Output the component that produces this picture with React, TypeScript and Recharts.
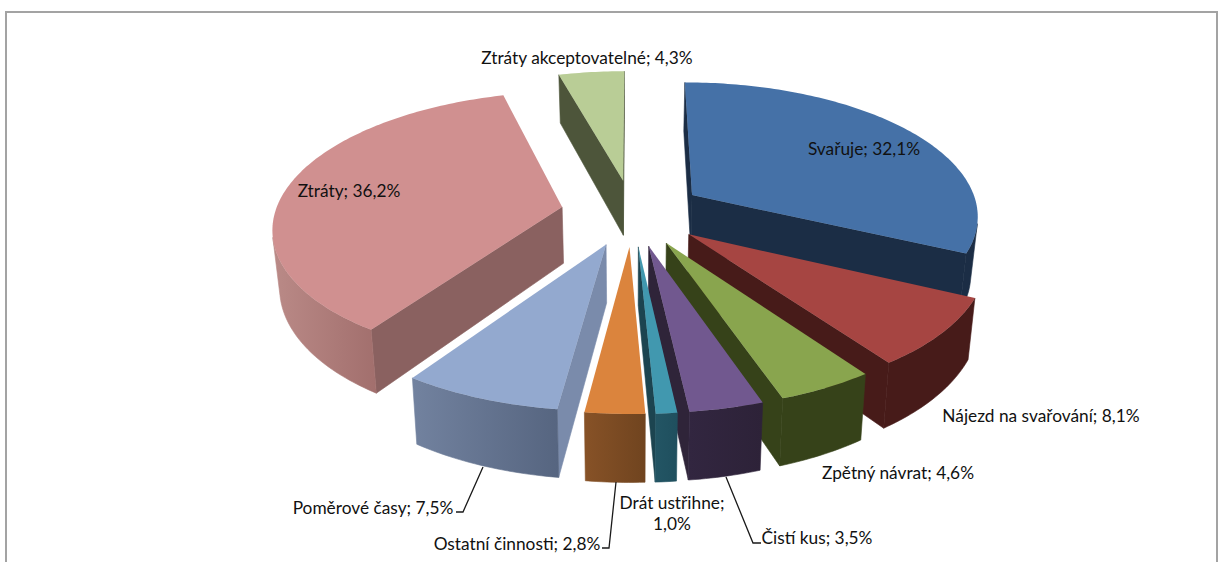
import React from "react";
import { PieChart, Pie } from "recharts";

// Share of shift time per activity, in percent
const activities = [
  "Svařuje",
  "Nájezd na svařování",
  "Zpětný návrat",
  "Čistí kus",
  "Drát ustřihne",
  "Ostatní činnosti",
  "Poměrové časy",
  "Ztráty",
  "Ztráty akceptovatelné",
];
const shares = [32.1, 8.1, 4.6, 3.5, 1.0, 2.8, 7.5, 36.2, 4.3];

const rows = activities.map((name, i) => ({ name, value: shares[i] }));

// Colours of each slice: top face, cut side, outer wall left and right
const topFill = ["#4571A7", "#A64542", "#89A54E", "#71588F", "#4198AF", "#DB843D", "#93A9CF", "#D09090", "#B9CD96"];
const sideFill = ["#1B2D45", "#471B19", "#364219", "#2F2439", "#1C4450", "#6E4320", "#7A8BAB", "#8A6160", "#4D553A"];
const wallLeft = ["#1B2D45", "#471B19", "#364219", "#322640", "#235564", "#875227", "#72829F", "#BA8A87", "#4D553A"];
const wallRight = ["#1B2D45", "#471B19", "#364219", "#2D2238", "#1F4F5E", "#70441F", "#566580", "#A26F6D", "#4D553A"];

// Label placement: centre of the text, optional leader line
type Place = { x: number; y: number; lines?: string[]; leader?: [number, number][] };
const places: Place[] = [
  { x: 864, y: 148 },
  { x: 1041, y: 415 },
  { x: 898, y: 472 },
  { x: 817, y: 537, leader: [[761, 543], [753, 543], [726, 477]] },
  { x: 672, y: 502, lines: ["Drát ustřihne;", "1,0%"] },
  { x: 517, y: 543, leader: [[602, 548], [609, 548], [616, 482]] },
  { x: 373, y: 507, leader: [[456, 512], [463, 512], [483, 467]] },
  { x: 349, y: 190 },
  { x: 587, y: 57 },
];

const CX = 632.5;
const CY = 212.5;
const RADIUS = 287;
const SQUASH = 133; // on-screen depth of a unit of radius
const PERSPECTIVE = 0.14;
const THICKNESS = 56.5;
const EXPLODE = 0.25;
const RAD = Math.PI / 180;

type Pt = [number, number];

const project = (u: number, v: number, z: number): Pt => {
  const s = 1 / (1 - PERSPECTIVE * v);
  return [CX + RADIUS * u * s * (1 - 0.02 * z), CY + SQUASH * v * s + THICKNESS * z * s];
};

const area = (p: Pt[]) => {
  let sum = 0;
  for (let i = 0; i < p.length; i++) {
    const a = p[i];
    const b = p[(i + 1) % p.length];
    sum += a[0] * b[1] - b[0] * a[1];
  }
  return sum;
};

const toPath = (p: Pt[]) => "M" + p.map((q) => `${q[0].toFixed(2)},${q[1].toFixed(2)}`).join("L") + "Z";

// Draws one exploded slice as a prism: cut sides, outer wall, then the top face
function Slice3D(props: any) {
  const { startAngle, endAngle, index } = props;
  const from = 90 - startAngle;
  const to = 90 - endAngle;
  const mid = ((from + to) / 2) * RAD;
  const au = Math.sin(mid) * EXPLODE;
  const av = Math.cos(mid) * EXPLODE;

  const steps = Math.max(2, Math.ceil(to - from));
  const angles = Array.from({ length: steps + 1 }, (_, i) => from + ((to - from) * i) / steps);

  // In pie angles 0° is at the back of the disc; the explosion pushes along the bisector
  const apexTop = project(au, -av, 0);
  const apexLow = project(au, -av, 1);
  const rim = (deg: number, z: number) => project(au + Math.sin(deg * RAD), -av - Math.cos(deg * RAD), z);

  const topPoly: Pt[] = [apexTop, ...angles.map((a) => rim(a, 0))];
  const orient = Math.sign(area(topPoly));

  const sides: string[] = [];
  const start: Pt[] = [rim(from, 0), apexTop, apexLow, rim(from, 1)];
  const end: Pt[] = [apexTop, rim(to, 0), rim(to, 1), apexLow];
  if (Math.sign(area(start)) === orient) sides.push(toPath(start));
  if (Math.sign(area(end)) === orient) sides.push(toPath(end));

  // Outer wall: keep only the steps that face the viewer
  const runs: number[][] = [];
  let run: number[] = [];
  angles.forEach((a, i) => {
    if (i === angles.length - 1) return;
    const b = angles[i + 1];
    const quad: Pt[] = [rim(b, 0), rim(a, 0), rim(a, 1), rim(b, 1)];
    if (Math.sign(area(quad)) === orient) {
      if (run.length === 0) run.push(a);
      run.push(b);
    } else if (run.length) {
      runs.push(run);
      run = [];
    }
  });
  if (run.length) runs.push(run);

  const gradId = `wall-${index}`;
  return (
    <g>
      {sides.map((d, i) => (
        <path key={i} d={d} fill={sideFill[index]} stroke={sideFill[index]} strokeWidth={0.6} />
      ))}
      {runs.map((r, i) => {
        const poly = [...r.map((a) => rim(a, 0)), ...[...r].reverse().map((a) => rim(a, 1))];
        const xs = poly.map((q) => q[0]);
        return (
          <g key={i}>
            <linearGradient
              id={`${gradId}-${i}`}
              gradientUnits="userSpaceOnUse"
              x1={Math.min(...xs)}
              x2={Math.max(...xs)}
              y1={0}
              y2={0}
            >
              <stop offset="0" stopColor={wallLeft[index]} />
              <stop offset="1" stopColor={wallRight[index]} />
            </linearGradient>
            <path
              d={toPath(poly)}
              fill={`url(#${gradId}-${i})`}
              stroke={`url(#${gradId}-${i})`}
              strokeWidth={0.6}
            />
          </g>
        );
      })}
      <path d={toPath(topPoly)} fill={topFill[index]} />
    </g>
  );
}

const percent = (v: number) => `${v.toFixed(1).replace(".", ",")}%`;

function SliceLabel(props: any) {
  const { index } = props;
  const place = places[index];
  const lines = place.lines ?? [`${activities[index]}; ${percent(shares[index])}`];
  return (
    <g>
      {place.leader && (
        <polyline
          points={place.leader.map((p) => p.join(",")).join(" ")}
          fill="none"
          stroke="#1a1a1a"
          strokeWidth={1.3}
        />
      )}
      {lines.map((line, i) => (
        <text
          key={i}
          x={place.x}
          y={place.y + i * 21}
          textAnchor="middle"
          dominantBaseline="central"
          fontFamily="Lato, sans-serif"
          fontSize={17.3}
          fill="#111"
        >
          {line}
        </text>
      ))}
    </g>
  );
}

export default function App() {
  return (
    <div style={{ position: "absolute", left: 0, top: 0, width: 1222, height: 562, overflow: "hidden", background: "#fff" }}>
      <div
        style={{
          position: "absolute",
          left: 5,
          top: 11,
          width: 1209,
          height: 600,
          border: "2px solid #a3a3a3",
        }}
      />
      <div style={{ position: "absolute", left: 0, top: 0 }}>
        <PieChart width={1222} height={562} margin={{ top: 0, right: 0, bottom: 0, left: 0 }}>
          <Pie
            data={rows}
            dataKey="value"
            nameKey="name"
            cx={CX}
            cy={CY}
            outerRadius={RADIUS}
            startAngle={90}
            endAngle={-270}
            isAnimationActive={false}
            shape={Slice3D}
            label={SliceLabel}
            labelLine={false}
          />
        </PieChart>
      </div>
    </div>
  );
}
